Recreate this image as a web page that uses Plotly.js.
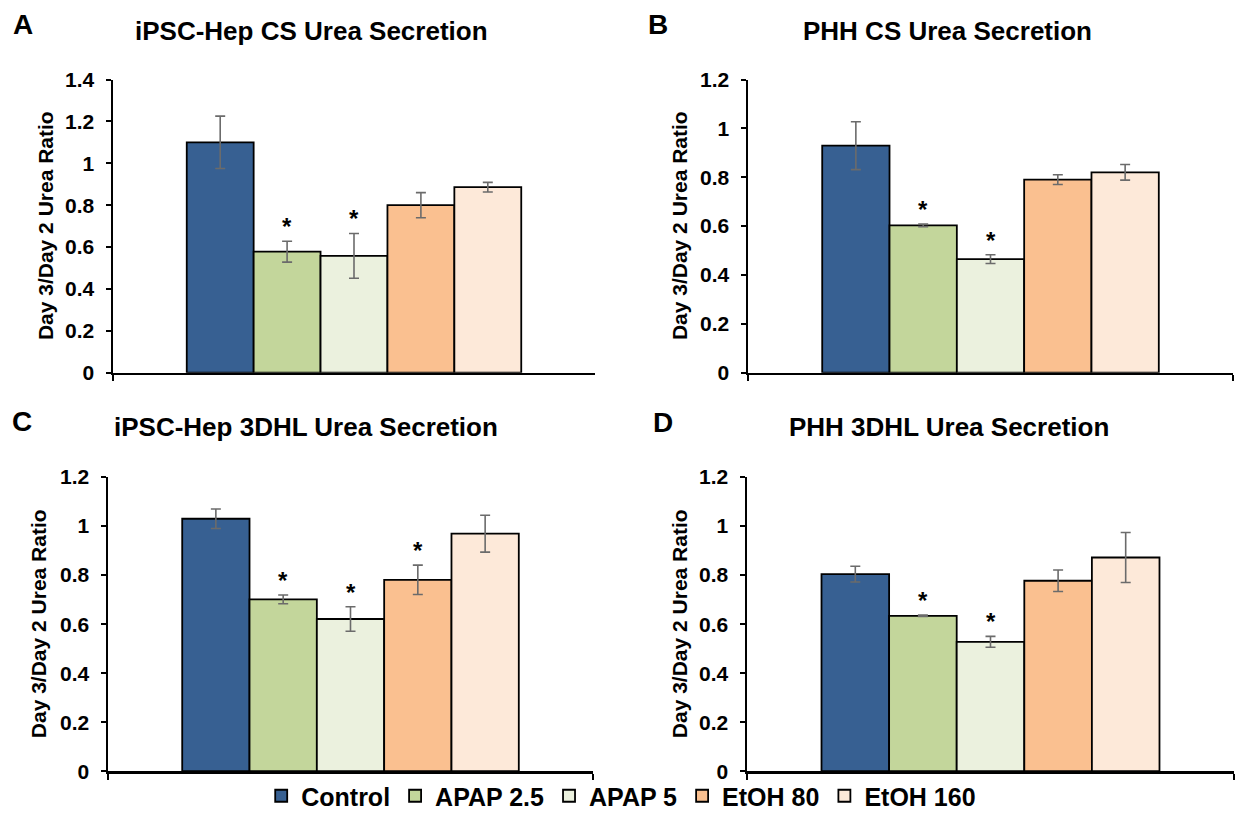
<!DOCTYPE html>
<html>
<head>
<meta charset="utf-8">
<script src="https://cdn.plot.ly/plotly-3.0.1.min.js"></script>
<style>html,body{margin:0;padding:0;background:#fff;}#chart{width:1235px;height:819px;}</style>
</head>
<body>
<div id="chart"></div>
<script>
// Series (legend entries)
const seriesNames = ["Control", "APAP 2.5", "APAP 5", "EtOH 80", "EtOH 160"];
const seriesColors = ["#376092", "#C3D69B", "#EBF1DE", "#FAC090", "#FDE9D9"];

// Panel titles and letters
const panelLetters = ["A", "B", "C", "D"];
const panelTitles = ["iPSC-Hep CS Urea Secretion", "PHH CS Urea Secretion",
                     "iPSC-Hep 3DHL Urea Secretion", "PHH 3DHL Urea Secretion"];
const yAxisTitle = "Day 3/Day 2 Urea Ratio";

// Values (mean), error (±), significance flags per panel
const meanA = [1.10, 0.578, 0.558, 0.800, 0.886];
const errA  = [0.125, 0.050, 0.107, 0.060, 0.023];
const sigA  = [0, 1, 1, 0, 0];

const meanB = [0.929, 0.603, 0.465, 0.790, 0.820];
const errB  = [0.098, 0.005, 0.018, 0.020, 0.032];
const sigB  = [0, 1, 1, 0, 0];

const meanC = [1.030, 0.701, 0.621, 0.781, 0.969];
const errC  = [0.040, 0.018, 0.050, 0.060, 0.075];
const sigC  = [0, 1, 1, 1, 0];

const meanD = [0.804, 0.634, 0.528, 0.777, 0.872];
const errD  = [0.032, 0.003, 0.022, 0.044, 0.102];
const sigD  = [0, 1, 1, 0, 0];

const yMax = [1.4, 1.2, 1.2, 1.2];

const panels = [
  {mean: meanA, err: errA, sig: sigA},
  {mean: meanB, err: errB, sig: sigB},
  {mean: meanC, err: errC, sig: sigC},
  {mean: meanD, err: errD, sig: sigD}
];

// Layout geometry (pixels in the 1235x819 page)
const W = 1235, H = 819;
const boxes = [
  {x0: 113, x1: 595, y0: 80, y1: 375},
  {x0: 748, x1: 1233, y0: 80, y1: 375},
  {x0: 108, x1: 593, y0: 480, y1: 776},
  {x0: 747, x1: 1234, y0: 480, y1: 776}
];
const titlePos = [{x: 311, y: 31}, {x: 947, y: 31}, {x: 306, y: 430}, {x: 949, y: 430}];
const letterPos = [{x: 23, y: 25}, {x: 658, y: 25}, {x: 22, y: 424}, {x: 663, y: 425}];
const yTitleX = [45, 679, 38, 679];

const FONT = "Liberation Sans, Arial, sans-serif";
const bargap = 0.306;
const category = ["Day 3"];

const traces = [];
const annotations = [];
const layout = {
  width: W, height: H, autosize: false,
  margin: {l: 0, r: 0, t: 0, b: 0},
  paper_bgcolor: "#ffffff", plot_bgcolor: "#ffffff",
  barmode: "group", bargap: bargap, bargroupgap: 0,
  showlegend: true,
  legend: {orientation: "h", x: 0.503, xanchor: "center", y: 1 - 801 / H, yanchor: "middle",
           bgcolor: "rgba(0,0,0,0)",
           font: {family: FONT, size: 25, color: "#000", weight: "bold"},
           itemclick: false, itemdoubleclick: false, tracegroupgap: 0, itemwidth: 30},
  font: {family: FONT, color: "#000"}
};

panels.forEach((p, k) => {
  const b = boxes[k];
  const sfx = k === 0 ? "" : String(k + 1);
  const xa = "x" + sfx, ya = "y" + sfx;
  seriesNames.forEach((name, i) => {
    traces.push({
      type: "bar", name: name, x: category, y: [p.mean[i]],
      xaxis: xa, yaxis: ya, legendgroup: name, showlegend: k === 0,
      marker: {color: seriesColors[i], line: {color: "#000", width: 1.8}},
      error_y: {type: "data", array: [p.err[i]], visible: true, color: "#6b6b6b", thickness: 1.6, width: 5},
      hoverinfo: "skip"
    });
    if (p.sig[i]) {
      const w = (1 - bargap) / seriesNames.length;
      annotations.push({
        xref: xa, yref: ya, x: (i - (seriesNames.length - 1) / 2) * w, y: p.mean[i] + p.err[i],
        text: "*", showarrow: false, yanchor: "bottom", xanchor: "center", yshift: -1,
        font: {family: FONT, size: 24, color: "#000", weight: "bold"}
      });
    }
  });
  layout["xaxis" + sfx] = {
    domain: [b.x0 / W, b.x1 / W], anchor: ya, type: "category", range: [-0.5, 0.5],
    showline: true, linecolor: "#000", linewidth: 2.5, showgrid: false, zeroline: false,
    ticks: "outside", tickson: "boundaries", ticklen: 6, tickwidth: 2, tickcolor: "#000",
    showticklabels: false, fixedrange: true
  };
  layout["yaxis" + sfx] = {
    domain: [1 - b.y1 / H, 1 - b.y0 / H], anchor: xa, range: [0, yMax[k]], dtick: 0.2, tick0: 0,
    showline: true, linecolor: "#000", linewidth: 2.5, showgrid: false, zeroline: false,
    ticks: "outside", ticklen: 5, tickwidth: 2, tickcolor: "#000", ticklabelstandoff: 7,
    tickfont: {family: FONT, size: 21, color: "#000", weight: "bold"}, fixedrange: true
  };
  annotations.push({
    xref: "paper", yref: "paper", x: titlePos[k].x / W, y: 1 - titlePos[k].y / H,
    xanchor: "center", yanchor: "middle", showarrow: false, text: panelTitles[k],
    font: {family: FONT, size: 26, color: "#000", weight: "bold"}
  });
  annotations.push({
    xref: "paper", yref: "paper", x: letterPos[k].x / W, y: 1 - letterPos[k].y / H,
    xanchor: "center", yanchor: "middle", showarrow: false, text: panelLetters[k],
    font: {family: FONT, size: 28, color: "#000", weight: "bold"}
  });
  annotations.push({
    xref: "paper", yref: "paper", x: yTitleX[k] / W, y: 1 - ((b.y0 + b.y1) / 2) / H,
    xanchor: "center", yanchor: "middle", showarrow: false, text: yAxisTitle, textangle: -90,
    font: {family: FONT, size: 21, color: "#000", weight: "bold"}
  });
});
layout.annotations = annotations;

Plotly.newPlot("chart", traces, layout, {displayModeBar: false, staticPlot: true});
</script>
</body>
</html>
